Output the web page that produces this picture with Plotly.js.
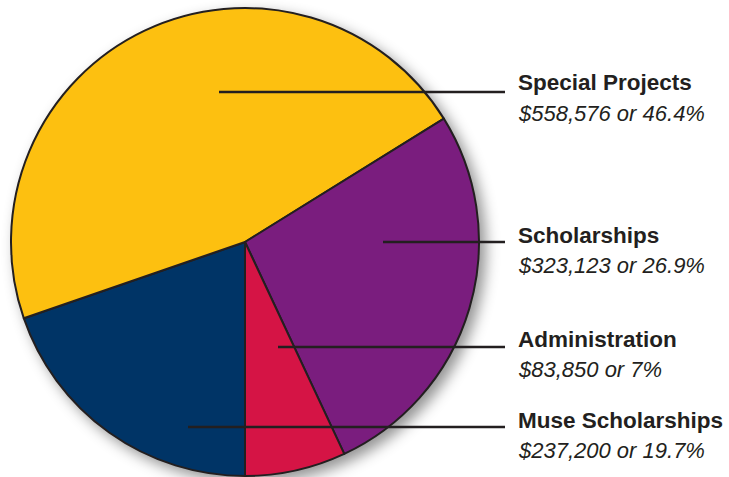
<!DOCTYPE html>
<html>
<head>
<meta charset="utf-8">
<script src="https://cdn.plot.ly/plotly-3.0.1.min.js"></script>
<style>
  html, body { margin: 0; padding: 0; background: #ffffff; }
  #chart { width: 729px; height: 477px; }
  .pielayer { filter: drop-shadow(6px 6px 7px rgba(0,0,0,0.42)); }
</style>
</head>
<body>
<div id="chart"></div>
<script>
// Data
const categories = ["Muse Scholarships", "Special Projects", "Scholarships", "Administration"];
const amounts = [237200, 558576, 323123, 83850];
const percentLabels = ["19.7%", "46.4%", "26.9%", "7%"];
const sliceColors = ["#003466", "#FDC010", "#7A1D7E", "#D51445"];

// Label order on the right (top to bottom)
const labelOrder = ["Special Projects", "Scholarships", "Administration", "Muse Scholarships"];
// Layout positions for labels and leader lines (pixels)
const labelTitleY = [82, 235, 339, 420];
const labelValueY = [114, 265, 369, 450];
const leaderY = [92, 242, 347, 427];
const leaderStartX = [219, 383, 278, 188];

const W = 729, H = 477;
const px = x => x / W;
const py = y => 1 - y / H;
const FONT = "Liberation Sans, Arial, sans-serif";

function fmtMoney(v) {
  return "$" + v.toLocaleString("en-US");
}

const annotations = [];
const shapes = [];
labelOrder.forEach((name, i) => {
  const idx = categories.indexOf(name);
  annotations.push({
    xref: "paper", yref: "paper", x: px(516), y: py(labelTitleY[i]),
    xanchor: "left", yanchor: "middle", showarrow: false,
    text: "<b>" + name + "</b>",
    font: { family: FONT, size: 22.5, color: "#231F20" }
  });
  annotations.push({
    xref: "paper", yref: "paper", x: px(516), y: py(labelValueY[i]),
    xanchor: "left", yanchor: "middle", showarrow: false,
    text: "<i>" + fmtMoney(amounts[idx]) + " or " + percentLabels[idx] + "</i>",
    font: { family: FONT, size: 22, color: "#231F20" }
  });
  shapes.push({
    type: "line", xref: "paper", yref: "paper",
    x0: px(leaderStartX[i]), x1: px(505), y0: py(leaderY[i]), y1: py(leaderY[i]),
    line: { color: "#231F20", width: 2.5 }
  });
});

const trace = {
  type: "pie",
  labels: categories,
  values: amounts,
  sort: false,
  direction: "clockwise",
  rotation: 180,
  textinfo: "none",
  hoverinfo: "label+value+percent",
  marker: { colors: sliceColors, line: { color: "#231F20", width: 2 } },
  domain: { x: [px(11), px(479)], y: [1 - 476 / H, 1 - 8 / H] },
  showlegend: false
};

const layout = {
  width: W, height: H,
  margin: { l: 0, r: 0, t: 0, b: 0 },
  paper_bgcolor: "#ffffff",
  showlegend: false,
  annotations: annotations,
  shapes: shapes
};

Plotly.newPlot("chart", [trace], layout, { staticPlot: true, displayModeBar: false });
</script>
</body>
</html>
